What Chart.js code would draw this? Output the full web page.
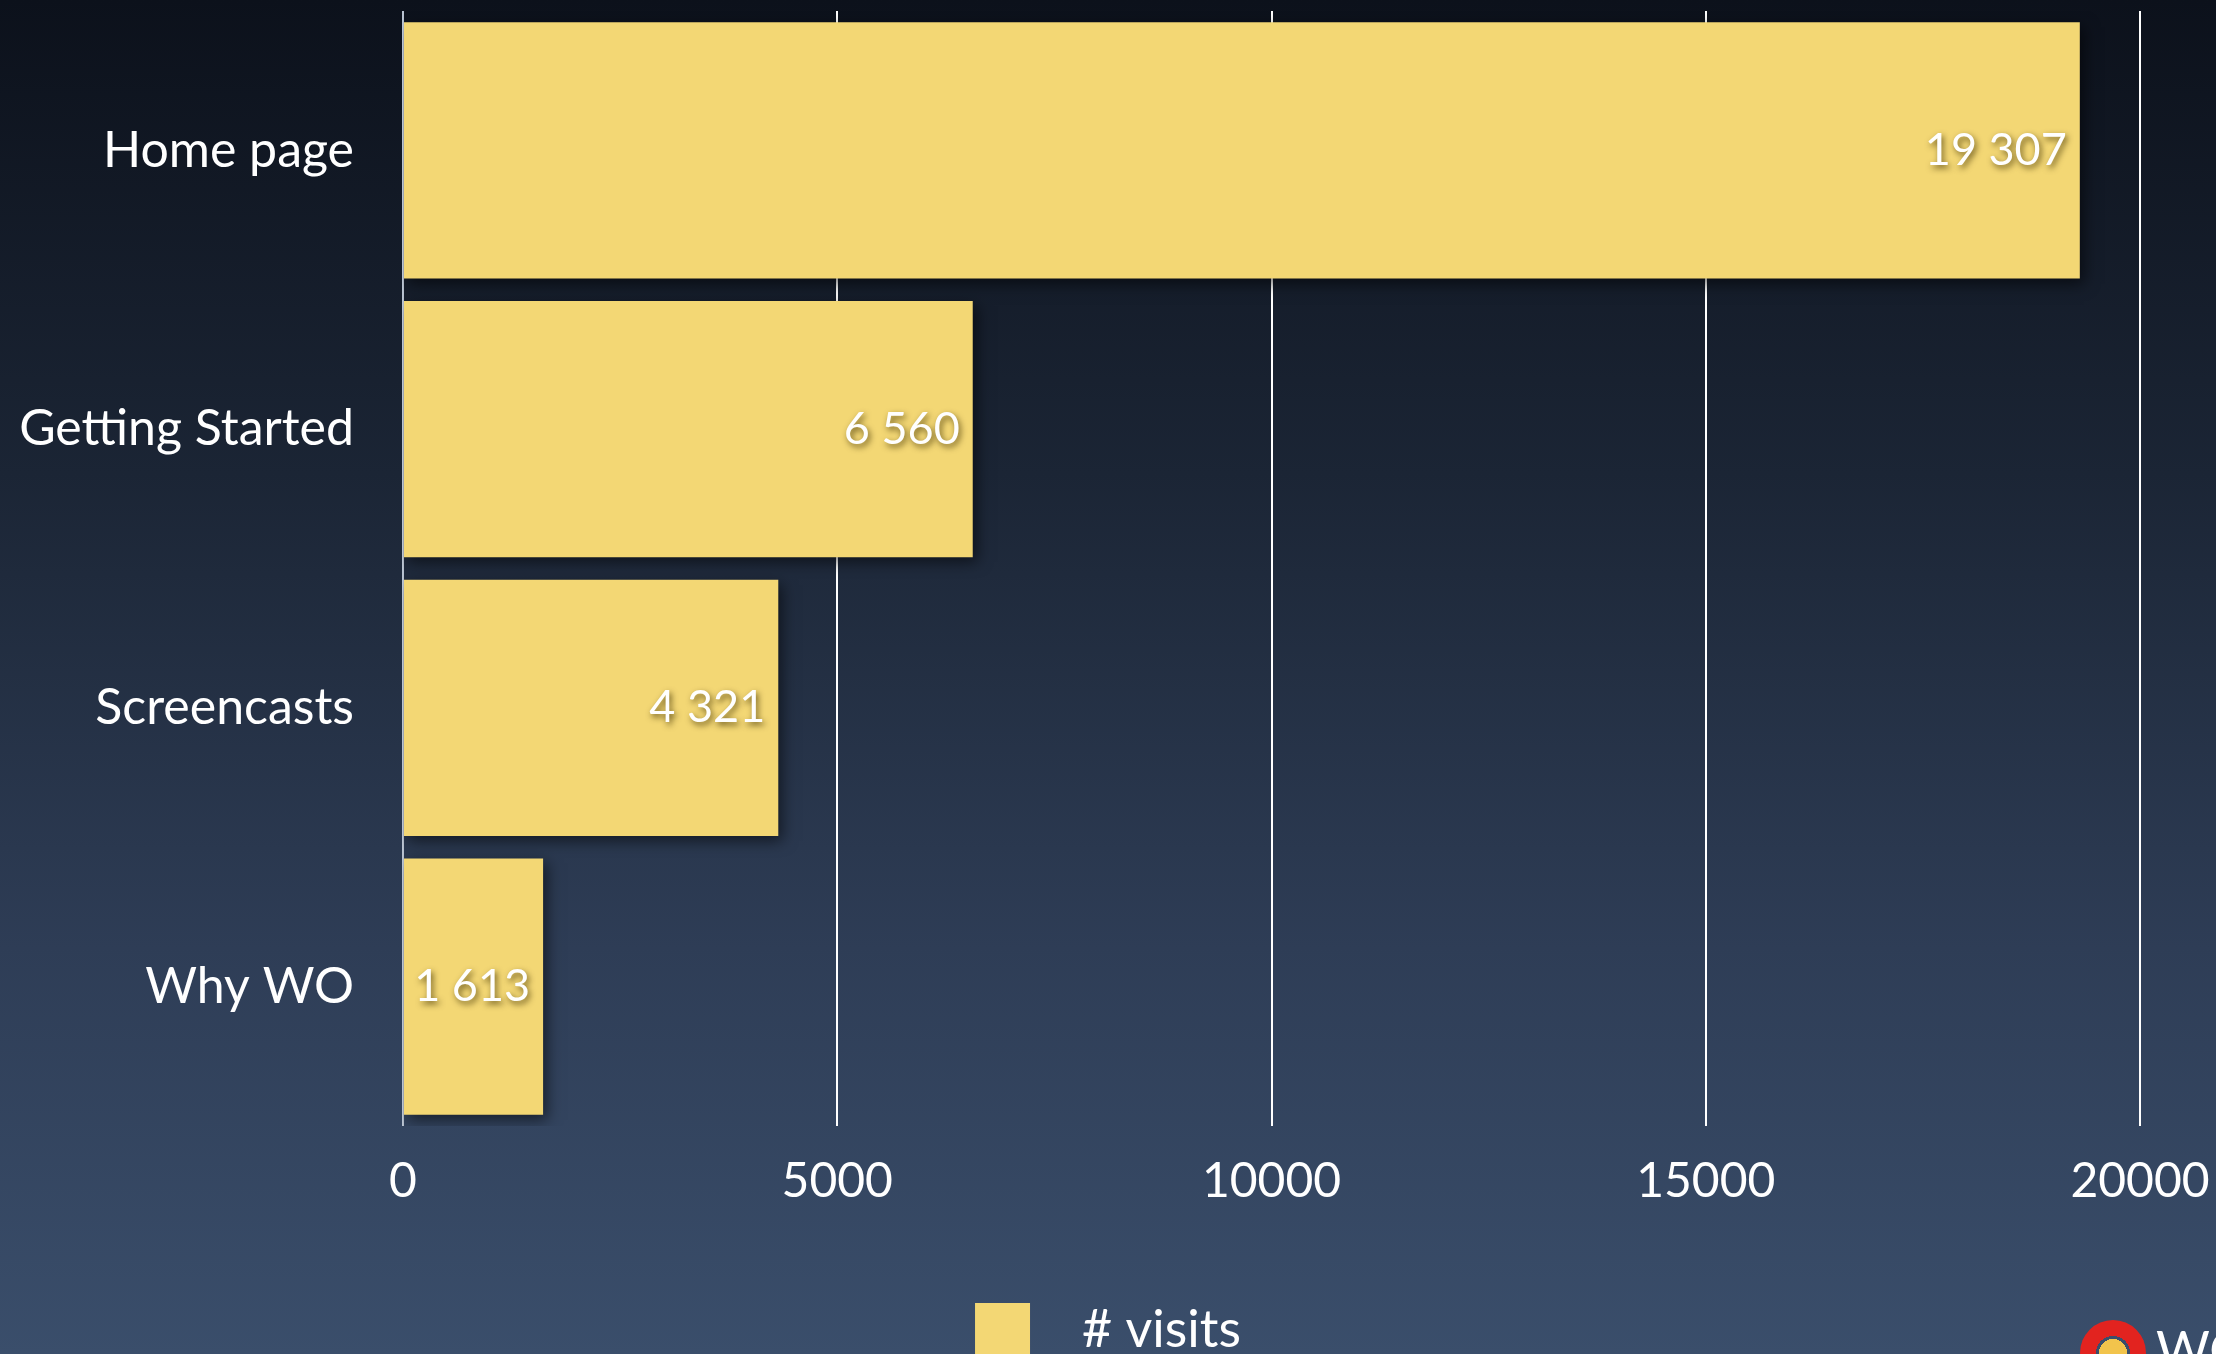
<!DOCTYPE html>
<html>
<head>
<meta charset="utf-8">
<script src="https://cdn.jsdelivr.net/npm/chart.js@4/dist/chart.umd.min.js"></script>
<style>
html, body { margin: 0; padding: 0; overflow: hidden; }
body {
  width: 2216px; height: 1354px; position: relative;
  background: linear-gradient(to bottom, #0c111b 0%, #1b2535 35%, #2e3d56 70%, #3a4e6b 100%);
}
#wrap { position: absolute; left: 0; top: 0; width: 2216px; height: 1368px; }
#logo { position: absolute; left: 2080px; top: 1320px; width: 66px; height: 66px; border-radius: 50%;
  background: radial-gradient(circle, #f2c44c 0 14px, #3a4e6b 14px 17px, #e2231f 17px); }
#logoText { position: absolute; left: 2156px; top: 1318px; color: #fff; font: 52px Lato, sans-serif; }
</style>
</head>
<body>
<div id="wrap"><canvas id="chart"></canvas></div>
<div id="logo"></div>
<div id="logoText">WO</div>
<script>
// page visits
const categories = ["Home page", "Getting Started", "Screencasts", "Why WO"];
const visits = [19307, 6560, 4321, 1613];
const seriesName = "# visits";
const xTickLabels = ["0", "5000", "10000", "15000", "20000"];

const barColor = "#f3d774";

function fmt(n) {
  return String(n).replace(/\B(?=(\d{3})+(?!\d))/g, " ");
}

// soft shadow under the bars
const barShadow = {
  id: "barShadow",
  beforeDatasetsDraw(chart) {
    const ctx = chart.ctx;
    ctx.save();
    ctx.shadowColor = "rgba(0,0,0,0.55)";
    ctx.shadowBlur = 14;
    ctx.shadowOffsetX = 4;
    ctx.shadowOffsetY = 5;
  },
  afterDatasetsDraw(chart) {
    chart.ctx.restore();
  }
};

// value written inside the end of each bar
const valueLabels = {
  id: "valueLabels",
  afterDatasetsDraw(chart) {
    const ctx = chart.ctx;
    const meta = chart.getDatasetMeta(0);
    ctx.save();
    ctx.font = "45px Lato, sans-serif";
    ctx.fillStyle = "#ffffff";
    ctx.textAlign = "right";
    ctx.textBaseline = "middle";
    ctx.shadowColor = "rgba(60,45,0,0.75)";
    ctx.shadowBlur = 6;
    ctx.shadowOffsetX = 2;
    ctx.shadowOffsetY = 3;
    meta.data.forEach((bar, i) => {
      ctx.fillText(fmt(visits[i]), bar.x - 13, bar.y);
    });
    ctx.restore();
  }
};

new Chart(document.getElementById("chart"), {
  type: "bar",
  data: {
    labels: categories,
    datasets: [{
      label: seriesName,
      data: visits,
      backgroundColor: barColor,
      borderWidth: 0,
      barPercentage: 0.92,
      categoryPercentage: 1
    }]
  },
  options: {
    indexAxis: "y",
    responsive: true,
    maintainAspectRatio: false,
    animation: false,
    layout: { padding: { top: 11, right: 0, left: 0, bottom: 0 } },
    plugins: {
      tooltip: { enabled: false },
      legend: {
        position: "bottom",
        labels: {
          color: "#ffffff",
          font: { family: "Lato", size: 52 },
          boxWidth: 55,
          boxHeight: 55,
          padding: 27,
          generateLabels: (chart) => {
            const items = Chart.defaults.plugins.legend.labels.generateLabels(chart);
            items.forEach(it => { it.text = "\u2002" + it.text; });
            return items;
          }
        }
      }
    },
    scales: {
      x: {
        min: 0,
        max: 20000,
        grid: {
          color: (c) => c.index === 0 ? "#b9c3d1" : "#ffffff",
          lineWidth: 2,
          drawTicks: false
        },
        border: { display: false },
        ticks: {
          stepSize: 5000,
          color: "#ffffff",
          font: { family: "Lato", size: 48 },
          padding: 27,
          maxRotation: 0,
          callback: (v, i) => xTickLabels[i]
        },
        afterFit: (s) => {
          s.height = 150;
          s.paddingLeft = 0;
          s.paddingRight = 76;
        }
      },
      y: {
        grid: { display: false },
        border: { display: false },
        ticks: {
          color: "#ffffff",
          font: { family: "Lato", size: 50 },
          padding: 41
        },
        afterFit: (s) => {
          s.width = 403;
          s.paddingTop = 0;
          s.paddingBottom = 0;
        }
      }
    }
  },
  plugins: [barShadow, valueLabels]
});
</script>
</body>
</html>
